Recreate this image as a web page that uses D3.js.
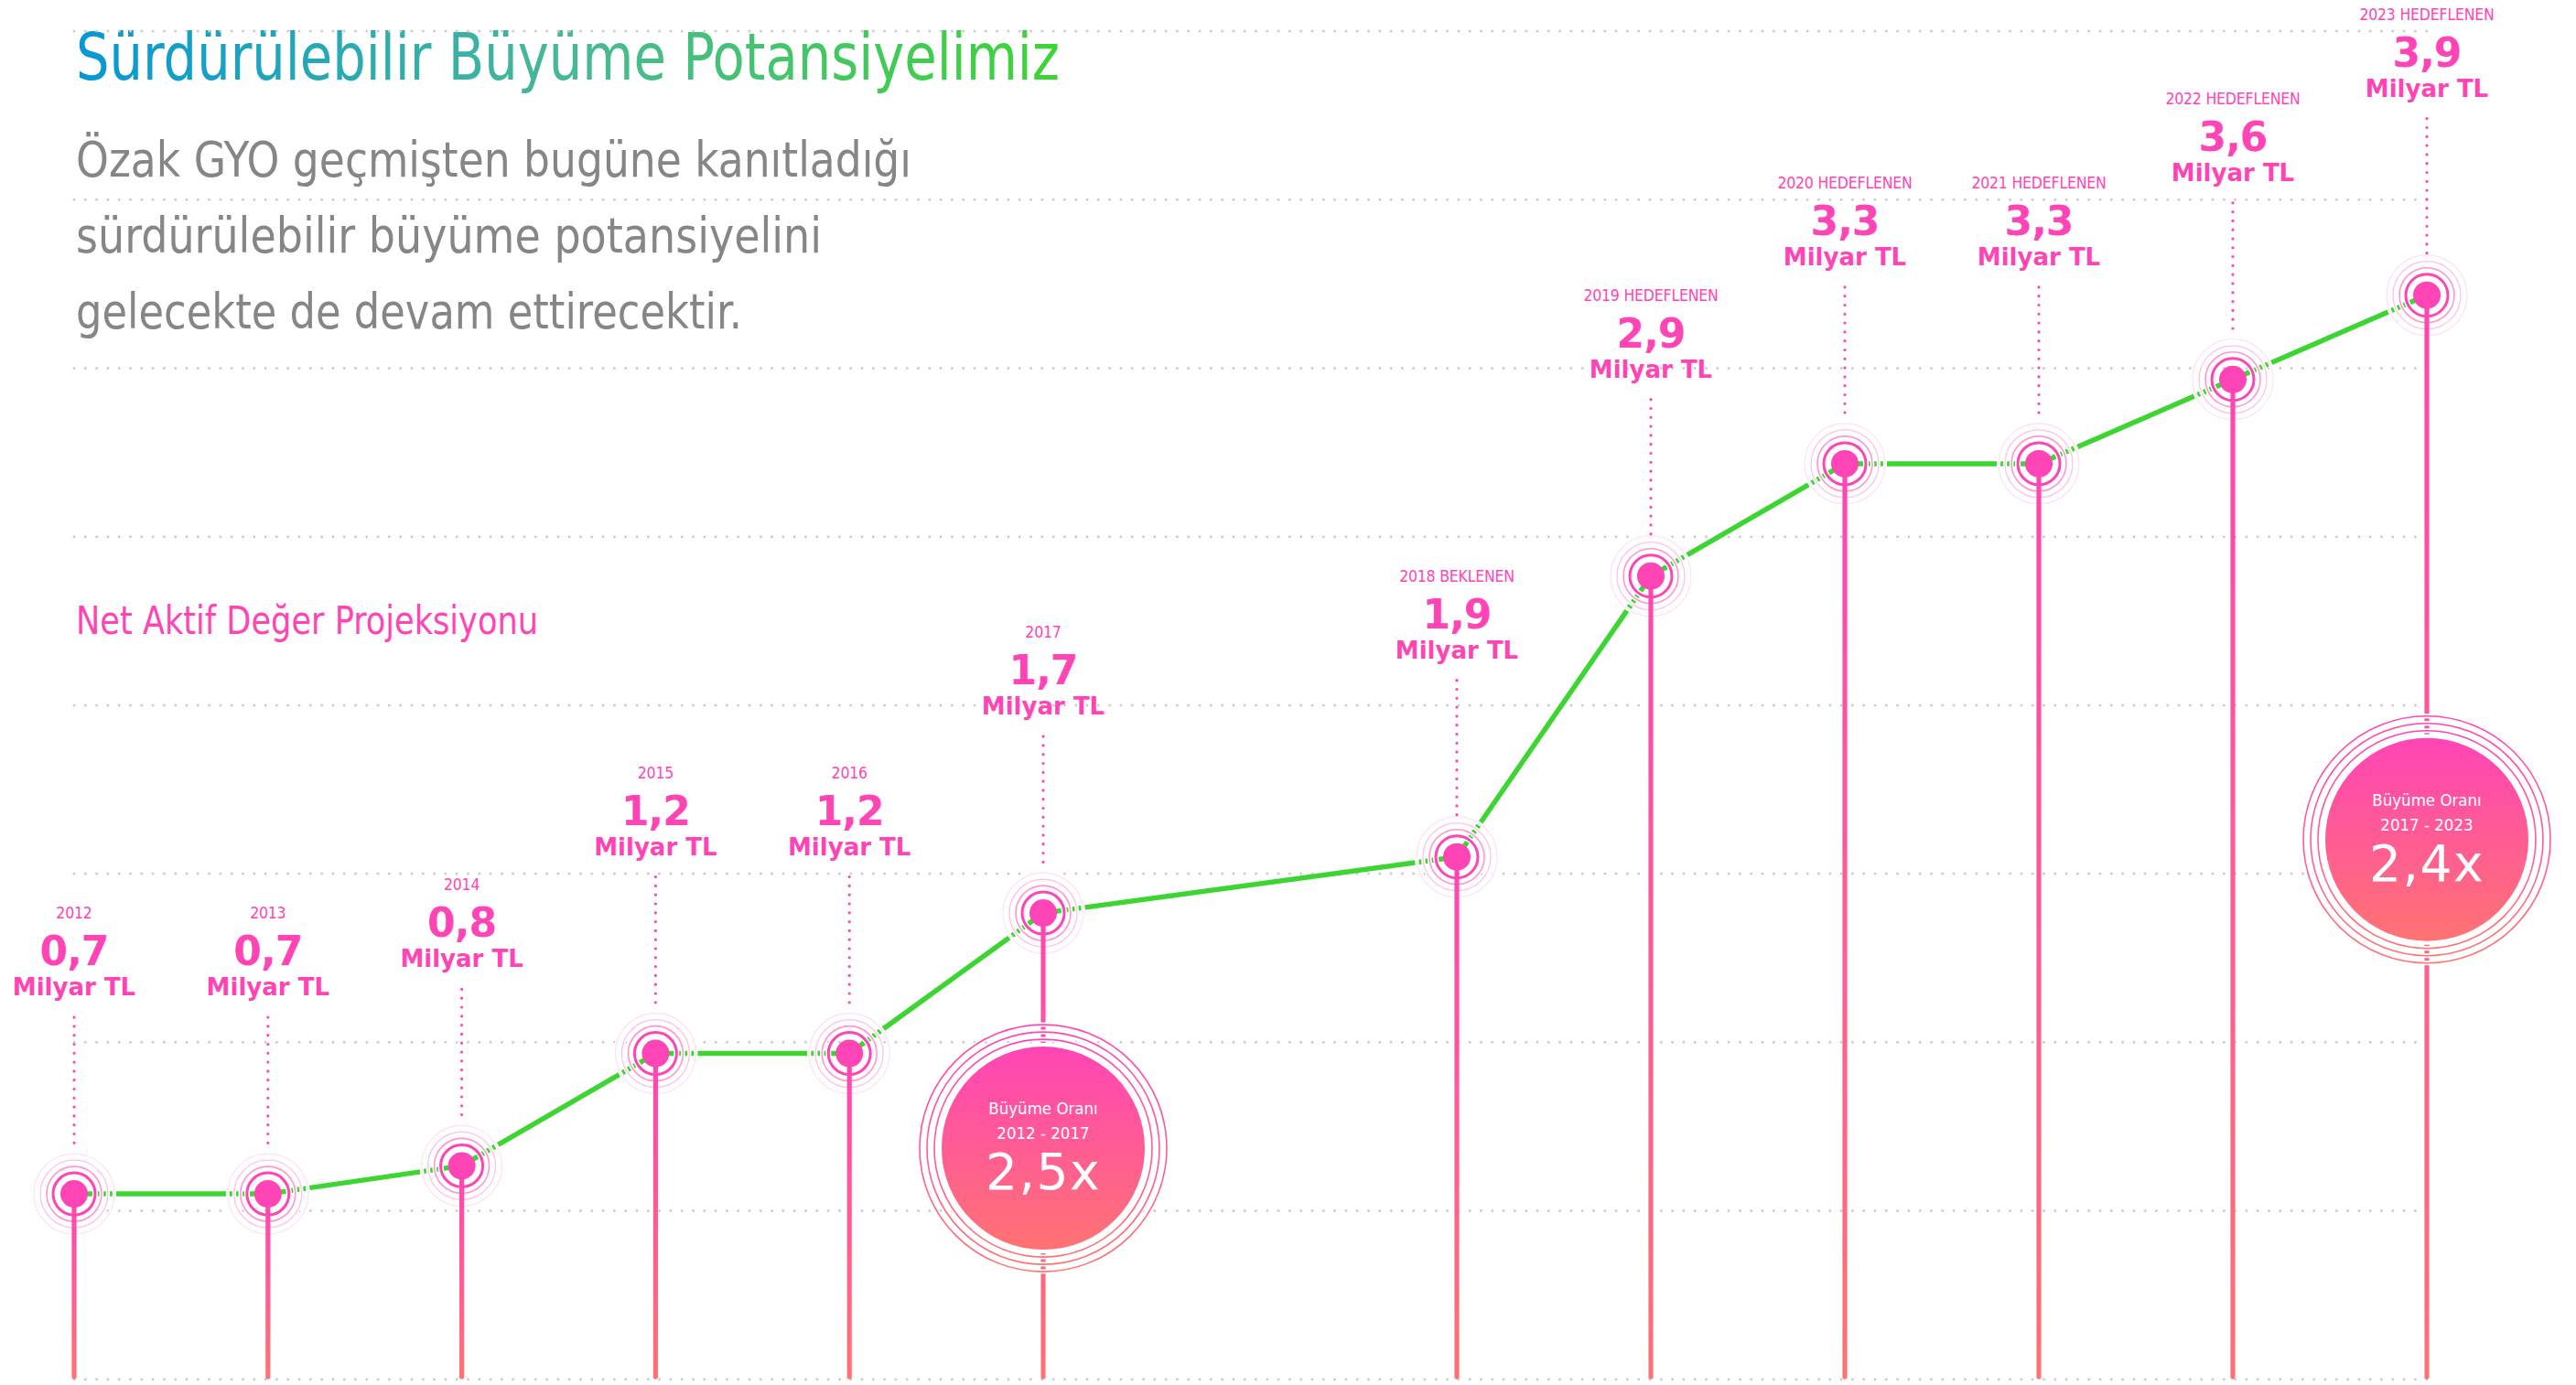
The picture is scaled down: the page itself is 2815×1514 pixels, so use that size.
<!DOCTYPE html>
<html>
<head>
<meta charset="utf-8">
<script src="https://cdn.jsdelivr.net/npm/d3@7"></script>
<style>
    body { margin: 0; background: #fff; }
    .narrow { font-family: "Liberation Sans Narrow", "DejaVu Sans Condensed", "Roboto Condensed", sans-serif; font-stretch: condensed; }
    .wide { font-family: "DejaVu Sans", "Noto Sans", sans-serif; }
</style>
</head>
<body>
<script>
// DATA
var years = [2012, 2013, 2014, 2015, 2016, 2017, 2018, 2019, 2020, 2021, 2022, 2023];
var values = [0.7, 0.7, 0.8, 1.2, 1.2, 1.7, 1.9, 2.9, 3.3, 3.3, 3.6, 3.9];
var yearLabels = ["2012", "2013", "2014", "2015", "2016", "2017", "2018 BEKLENEN",
    "2019 HEDEFLENEN", "2020 HEDEFLENEN", "2021 HEDEFLENEN", "2022 HEDEFLENEN", "2023 HEDEFLENEN"];
var unitLabel = "Milyar TL";

var growthYears = [2017, 2023];
var growthPeriods = ["2012 - 2017", "2017 - 2023"];
var growthRates = [2.5, 2.4];
var growthTitle = "Büyüme Oranı";

var titleText = "Sürdürülebilir Büyüme Potansiyelimiz";
var subtitleLines = ["Özak GYO geçmişten bugüne kanıtladığı",
    "sürdürülebilir büyüme potansiyelini",
    "gelecekte de devam ettirecektir."];
var seriesName = "Net Aktif Değer Projeksiyonu";

var pink = "#ff45b5";
var coral = "#ff7373";
var green = "#3dd532";

// turkish style decimals: 0,7
var trLocale = d3.formatLocale({ decimal: ",", thousands: ".", grouping: [3], currency: ["", " TL"] });
var fmt = trLocale.format(".1f");

function main() {

    // prep chart variables
    var [width, height, svg, x, y] = prepChartVars();

    makeDefs(svg);
    drawHeader(svg);
    drawGrid(svg, x, y);
    drawSeries(svg, x, y);
    drawLabels(svg, x, y);
};

function prepChartVars() {
    var width = 2815,
        height = 1514;

    var svg = d3.select("body")
        .append("svg")
        .attr("width", width)
        .attr("height", height);

    // x has a wider gap between 2017 and 2018 (room for the bubble)
    var x = d3.scaleLinear()
        .domain([2012, 2017, 2018, 2023])
        .range([81, 1140, 1592, 2652]);

    var y = d3.scaleLinear()
        .domain([0, 4])
        .range([1520, 292]);

    return [width, height, svg, x, y]
};

function makeDefs(svg) {
    var defs = svg.append("defs");

    var tg = defs.append("linearGradient")
        .attr("id", "titleGrad")
        .attr("gradientUnits", "userSpaceOnUse")
        .attr("x1", 83).attr("x2", 1158).attr("y1", 0).attr("y2", 0);
    tg.append("stop").attr("offset", "0%").attr("stop-color", "#0598d6");
    tg.append("stop").attr("offset", "50%").attr("stop-color", "#48b896");
    tg.append("stop").attr("offset", "100%").attr("stop-color", "#3dd535");

    // vertical pink -> coral, used for stems and bubbles
    var vg = defs.append("linearGradient")
        .attr("id", "vGrad")
        .attr("x1", 0).attr("x2", 0).attr("y1", 0).attr("y2", 1);
    vg.append("stop").attr("offset", "0%").attr("stop-color", pink);
    vg.append("stop").attr("offset", "100%").attr("stop-color", coral);
};

function drawHeader(svg) {
    svg.append("text")
        .attr("class", "narrow")
        .attr("x", 83)
        .attr("y", 87)
        .attr("font-size", 71)
        .attr("textLength", 1075)
        .attr("lengthAdjust", "spacingAndGlyphs")
        .attr("fill", "url(#titleGrad)")
        .text(titleText);

    var subWidths = [913, 815, 728];
    svg.selectAll(".sub")
        .data(subtitleLines)
        .enter()
        .append("text")
        .attr("class", "narrow sub")
        .attr("x", 83)
        .attr("y", function (d, i) { return 193 + i * 83 })
        .attr("font-size", 54)
        .attr("textLength", function (d, i) { return subWidths[i] })
        .attr("lengthAdjust", "spacingAndGlyphs")
        .attr("fill", "#868686")
        .text(function (d) { return d });

    svg.append("text")
        .attr("class", "narrow")
        .attr("x", 83)
        .attr("y", 693)
        .attr("font-size", 42)
        .attr("textLength", 505)
        .attr("lengthAdjust", "spacingAndGlyphs")
        .attr("fill", pink)
        .text(seriesName);
};

function drawGrid(svg, x, y) {
    // dotted horizontal guides every 0.6
    var gridValues = d3.range(0.04, 4.9, 0.6);
    svg.append("g")
        .selectAll("line")
        .data(gridValues)
        .enter()
        .append("line")
        .attr("x1", x.range()[0])
        .attr("x2", x.range()[3])
        .attr("y1", function (d) { return y(d) })
        .attr("y2", function (d) { return y(d) })
        .attr("stroke", "#cdcdcd")
        .attr("stroke-width", 3)
        .attr("stroke-linecap", "round")
        .attr("stroke-dasharray", "0 12.3");
};

function drawSeries(svg, x, y) {
    var data = years.map(function (yr, i) { return { year: yr, value: values[i] } });
    var bottom = y(0.04);

    //green line
    var line = d3.line()
        .x(function (d) { return x(d.year) })
        .y(function (d) { return y(d.value) });

    svg.append("path")
        .datum(data)
        .attr("d", line)
        .attr("fill", "none")
        .attr("stroke", green)
        .attr("stroke-width", 5.5)
        .attr("stroke-linejoin", "round");

    // pulse rings round every point (white under each ring breaks the line)
    var rings = [
        { r: 23, w: 3, c: pink },
        { r: 30, w: 1.6, c: "#ff98d2" },
        { r: 37, w: 1.3, c: "#ffc3e4" },
        { r: 44, w: 1.1, c: "#ffe1f1" }
    ];
    var ringG = svg.append("g");
    data.forEach(function (d) {
        rings.forEach(function (rg) {
            ringG.append("circle")
                .attr("cx", x(d.year)).attr("cy", y(d.value)).attr("r", rg.r)
                .attr("fill", "none").attr("stroke", "#fff").attr("stroke-width", rg.w + 3);
            ringG.append("circle")
                .attr("cx", x(d.year)).attr("cy", y(d.value)).attr("r", rg.r)
                .attr("fill", "none").attr("stroke", rg.c).attr("stroke-width", rg.w);
        });
    });

    // stems
    svg.append("g")
        .selectAll("rect")
        .data(data)
        .enter()
        .append("rect")
        .attr("x", function (d) { return x(d.year) - 2.6 })
        .attr("y", function (d) { return y(d.value) })
        .attr("width", 5.2)
        .attr("height", function (d) { return bottom - y(d.value) })
        .attr("rx", 2.6)
        .attr("fill", "url(#vGrad)");

    // growth bubbles
    drawBubbles(svg, x, y);

    // dots
    svg.append("g")
        .selectAll("circle")
        .data(data)
        .enter()
        .append("circle")
        .attr("cx", function (d) { return x(d.year) })
        .attr("cy", function (d) { return y(d.value) })
        .attr("r", 15)
        .attr("fill", pink);

    // dotted leaders from label to point
    svg.append("g")
        .selectAll("line")
        .data(data)
        .enter()
        .append("line")
        .attr("x1", function (d) { return x(d.year) })
        .attr("x2", function (d) { return x(d.year) })
        .attr("y1", function (d) { return y(d.value) - 193 })
        .attr("y2", function (d) { return y(d.value) - 46 })
        .attr("stroke", pink)
        .attr("stroke-width", 3.2)
        .attr("stroke-linecap", "round")
        .attr("stroke-dasharray", "0 9.8");
};

function drawBubbles(svg, x, y) {
    // bubble centres, px below the anchor point
    var drop = [257, 595];

    growthYears.forEach(function (yr, i) {
        var cx = x(yr),
            cy = y(values[years.indexOf(yr)]) + drop[i];
        var g = svg.append("g");

        [135, 127, 119].forEach(function (r) {
            g.append("circle").attr("cx", cx).attr("cy", cy).attr("r", r)
                .attr("fill", "none").attr("stroke", "#fff").attr("stroke-width", 5);
            g.append("circle").attr("cx", cx).attr("cy", cy).attr("r", r)
                .attr("fill", "none").attr("stroke", "url(#vGrad)").attr("stroke-width", 1.6);
        });

        g.append("circle").attr("cx", cx).attr("cy", cy).attr("r", 115)
            .attr("fill", "#fff");
        g.append("circle").attr("cx", cx).attr("cy", cy).attr("r", 111)
            .attr("fill", "url(#vGrad)");

        g.append("text").attr("class", "narrow")
            .attr("x", cx).attr("y", cy - 37)
            .attr("text-anchor", "middle")
            .attr("font-size", 18.5)
            .attr("fill", "#fff")
            .text(growthTitle);
        g.append("text").attr("class", "narrow")
            .attr("x", cx).attr("y", cy - 10)
            .attr("text-anchor", "middle")
            .attr("font-size", 18.5)
            .attr("fill", "#fff")
            .text(growthPeriods[i]);
        g.append("text").attr("class", "wide")
            .attr("x", cx).attr("y", cy + 45)
            .attr("text-anchor", "middle")
            .attr("font-size", 55)
            .attr("letter-spacing", 1.5)
            .attr("fill", "#fff")
            .text(fmt(growthRates[i]) + "x");
    });
};

function drawLabels(svg, x, y) {
    var g = svg.append("g").attr("text-anchor", "middle").attr("fill", pink);

    years.forEach(function (yr, i) {
        var px = x(yr),
            py = y(values[i]);

        g.append("text").attr("class", "narrow")
            .attr("x", px).attr("y", py - 301)
            .attr("font-size", 17.5)
            .attr("letter-spacing", -0.2)
            .text(yearLabels[i]);

        g.append("text").attr("class", "wide")
            .attr("x", px).attr("y", py - 250)
            .attr("font-size", 44)
            .attr("font-weight", "bold")
            .attr("letter-spacing", -1)
            .text(fmt(values[i]));

        g.append("text").attr("class", "wide")
            .attr("x", px).attr("y", py - 217)
            .attr("font-size", 26)
            .attr("font-weight", "bold")
            .text(unitLabel);
    });
};

// Start JavaScript when window loads
window.onload = main()
</script>
</body>
</html>
